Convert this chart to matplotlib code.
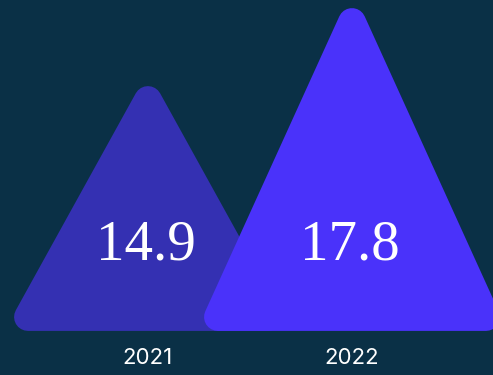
import matplotlib.pyplot as plt
from matplotlib.patches import Polygon

# chart data
years = ['2021', '2022']
values = [14.9, 17.8]
colors = ['#3430b2', '#4a32fa']

BG = '#0a3046'
BASE = 6.83         # value at the triangle base line
CORNER_PT = 20      # stroke width -> rounded corner radius (~14 px)

fig = plt.figure(figsize=(4.93, 3.75), dpi=100, facecolor=BG)
ax = fig.add_axes([0, 0, 1, 1])
ax.set_facecolor(BG)
ax.set_xlim(-0.725, 1.691)
ax.set_ylim(4.674, 18.618)
ax.axis('off')

for i, (year, val, col) in enumerate(zip(years, values, colors)):
    half_w = 0.2334 + 0.0238 * val
    tri = Polygon([(i - half_w, BASE), (i + half_w, BASE), (i, val)],
                  closed=True, facecolor=col, edgecolor=col,
                  linewidth=CORNER_PT, joinstyle='round', zorder=2 + i)
    ax.add_patch(tri)
    ax.text(i - 0.012, 0.345, f'{val:.1f}', transform=ax.get_xaxis_transform(),
            ha='center', va='center', color='white', fontsize=41,
            family='Liberation Serif', zorder=5)
    ax.text(i, 0.045, year, transform=ax.get_xaxis_transform(),
            ha='center', va='center', color='white', fontsize=16,
            family='Inter', zorder=5)

fig.savefig('out.png', dpi=100, facecolor=BG)
